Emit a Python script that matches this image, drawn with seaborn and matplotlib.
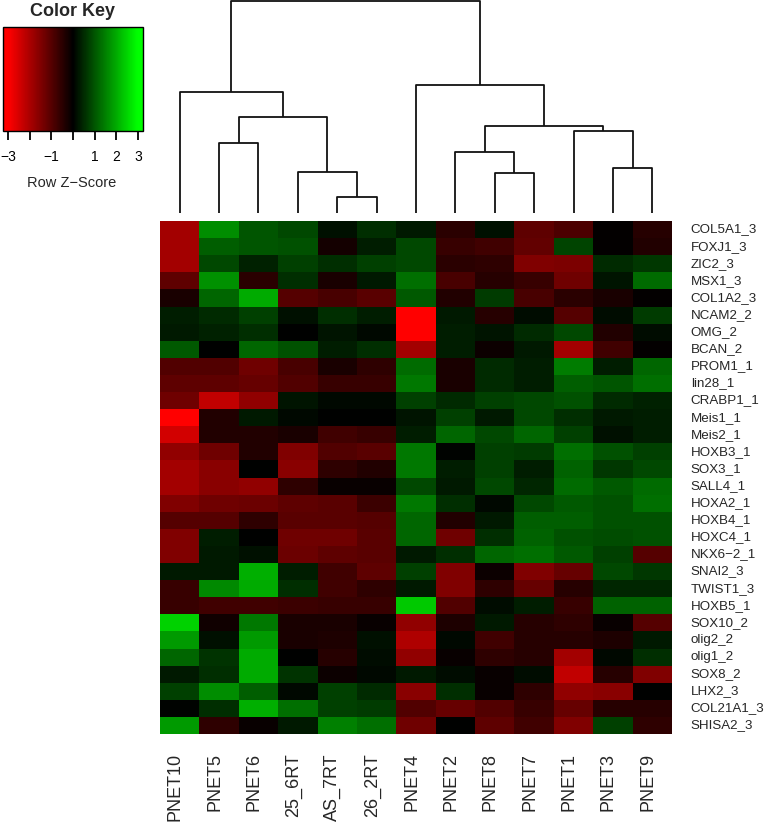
import numpy as np
import pandas as pd
import matplotlib
matplotlib.use("Agg")
import matplotlib.pyplot as plt
from matplotlib.colors import LinearSegmentedColormap
from matplotlib.transforms import ScaledTranslation
import seaborn as sns

# ---------------- data ----------------
genes = ["COL5A1_3", "FOXJ1_3", "ZIC2_3", "MSX1_3", "COL1A2_3", "NCAM2_2", "OMG_2",
         "BCAN_2", "PROM1_1", "lin28_1", "CRABP1_1", "Meis1_1", "Meis2_1", "HOXB3_1",
         "SOX3_1", "SALL4_1", "HOXA2_1", "HOXB4_1", "HOXC4_1", "NKX6\u22122_1", "SNAI2_3",
         "TWIST1_3", "HOXB5_1", "SOX10_2", "olig2_2", "olig1_2", "SOX8_2", "LHX2_3",
         "COL21A1_3", "SHISA2_3"]

samples = ["PNET10", "PNET5", "PNET6", "25_6RT", "AS_7RT", "26_2RT", "PNET4",
           "PNET2", "PNET8", "PNET7", "PNET1", "PNET3", "PNET9"]

PNET10 = [-1.9, -1.9, -1.9, -1.1, -0.3, 0.35, 0.3, 1.05, -0.95, -1.1, -1.3, -3.2, -2.45, -1.7, -1.9,
          -1.9, -1.5, -1.0, -1.5, -1.5, 0.3, -0.65, -0.65, 2.45, 1.8, 1.2, 0.3, 0.75, 0.05, 1.8]
PNET5 = [1.65, 1.1, 0.85, 1.7, 1.2, 0.5, 0.4, 0.0, -0.95, -1.1, -2.25, -0.4, -0.4, -1.3, -1.6,
         -1.6, -1.3, -1.0, 0.35, 0.3, 0.3, 1.6, -0.75, -0.2, 0.2, 0.6, 0.55, 1.65, 0.55, -0.55]
PNET6 = [1.0, 1.0, 0.4, -0.5, 2.0, 0.75, 0.55, 1.2, -1.3, -1.2, -1.7, 0.3, -0.4, -0.4, 0.0,
         -1.7, -1.25, -0.55, 0.0, 0.2, 2.05, 2.0, -0.75, 1.4, 1.8, 2.0, 2.0, 1.1, 2.05, -0.1]
RT25_6 = [0.85, 0.95, 0.75, 0.55, -1.0, 0.2, 0.0, 0.95, -0.85, -0.95, 0.25, 0.1, -0.3, -1.5, -1.6,
          -0.55, -1.1, -1.05, -1.3, -1.25, 0.35, 0.55, -0.7, -0.3, -0.3, 0.0, 0.6, 0.1, 1.3, 0.3]
AS_7RT = [0.2, -0.25, 0.55, -0.3, -0.85, 0.55, 0.25, 0.35, -0.3, -0.65, 0.1, 0.0, -0.75, -0.95, -0.55,
          -0.1, -1.05, -1.05, -1.3, -1.1, -0.75, -0.75, -0.65, -0.3, -0.35, -0.45, -0.15, 0.75, 0.75, 1.5]
RT26_2 = [0.55, 0.35, 0.75, 0.3, -1.05, 0.35, 0.1, 0.55, -0.55, -0.65, 0.1, 0.0, -0.65, -1.05, -0.4,
          -0.1, -0.7, -1.0, -1.05, -1.05, -1.1, -0.55, -0.65, -0.1, 0.2, 0.15, 0.1, 0.5, 0.7, 1.3]
PNET4 = [0.3, 0.85, 0.85, 1.3, 1.05, -3.2, -3.2, -1.9, 1.25, 1.4, 0.75, 0.25, 0.35, 1.4, 1.4,
         0.85, 1.4, 1.2, 1.2, 0.3, 0.75, 0.3, 2.35, -1.7, -2.05, -1.7, 0.3, -1.6, -0.95, -1.3]
PNET2 = [-0.5, -0.65, -0.5, -0.85, -0.4, 0.3, 0.35, 0.35, -0.3, -0.3, 0.5, 0.75, 1.2, 0.05, 0.35,
         0.3, 0.55, -0.4, -1.3, 0.55, -1.5, -1.5, -0.95, -0.35, 0.1, -0.1, 0.15, 0.55, -1.2, 0.0]
PNET8 = [0.2, -0.75, -0.55, -0.45, 0.7, -0.45, 0.25, -0.15, 0.5, 0.5, 0.75, 0.3, 0.85, 0.75, 0.75,
         0.85, 0.1, 0.3, 0.55, 1.2, -0.15, -0.55, 0.15, 0.3, -0.75, -0.55, -0.1, -0.1, -0.95, -1.1]
PNET7 = [-1.1, -1.15, -1.5, -0.65, -0.85, 0.15, 0.5, 0.3, 0.35, 0.35, 0.85, 0.85, 1.2, 0.7, 0.35,
         0.45, 0.85, 1.1, 1.15, 1.3, -1.5, -1.2, 0.35, -0.45, -0.45, -0.45, 0.15, -0.55, -0.65, -0.75]
PNET1 = [-0.9, 0.8, -1.45, -1.3, -0.5, -1.0, 0.85, -1.9, 1.45, 1.1, 0.95, 0.55, 0.75, 1.3, 1.15,
         1.25, 1.05, 1.1, 0.95, 1.05, -1.2, -0.45, -0.65, -0.55, -0.45, -1.9, -2.25, -1.7, -1.2, -1.5]
PNET3 = [-0.05, -0.05, 0.5, 0.25, -0.3, 0.15, -0.4, -0.75, 0.35, 1.0, 0.5, 0.3, 0.2, 0.95, 0.65,
         1.05, 0.95, 0.95, 0.9, 0.75, 0.85, 0.45, 1.15, -0.1, -0.35, 0.1, -0.45, -1.6, -0.45, 0.75]
PNET9 = [-0.45, -0.4, 0.65, 1.25, -0.05, 0.7, 0.15, -0.05, 1.2, 1.3, 0.4, 0.35, 0.35, 0.75, 0.85,
         1.25, 1.3, 0.95, 0.95, -1.0, 0.65, 0.45, 1.15, -1.0, 0.3, 0.55, -1.5, 0.0, -0.45, -0.55]

columns = [PNET10, PNET5, PNET6, RT25_6, AS_7RT, RT26_2, PNET4, PNET2, PNET8, PNET7, PNET1, PNET3, PNET9]

# column dendrogram: (left node, right node, merge height); leaves are 0..12, new nodes 13..
col_merges = [(4, 5, 48), (3, 13, 125), (1, 2, 212), (15, 14, 290), (0, 16, 365),
              (8, 9, 120), (7, 18, 183), (11, 12, 135), (10, 20, 247), (19, 21, 263),
              (6, 22, 385), (17, 23, 638)]

key_ticks = [-3, -2, -1, 0, 1, 2, 3]
key_labels = ["\u22123", "", "\u22121", "", "1", "2", "3"]

# ---------------- styling ----------------
sns.set_style("white")
plt.rcParams["font.family"] = ["Liberation Sans", "DejaVu Sans"]

W, H = 764, 822
fig = plt.figure(figsize=(W / 100, H / 100), dpi=100)

def box(x0, y0, x1, y1):
    return [x0 / W, 1 - y1 / H, (x1 - x0) / W, (y1 - y0) / H]

ax = fig.add_axes(box(160, 221, 672, 734))
ax_d = fig.add_axes(box(160, 0, 672, 221))
ax_k = fig.add_axes(box(3, 27, 143, 131))

for c in columns:
    assert len(c) == len(genes)
df = pd.DataFrame(np.array(columns).T, index=genes, columns=samples)

lim = 3.23
sat = 3.0
e = (lim - sat) / (2 * lim)
cmap = LinearSegmentedColormap.from_list(
    "redgreen", [(0, "#ff0000"), (e, "#ff0000"), (0.5, "#000000"), (1 - e, "#00ff00"), (1, "#00ff00")])

sns.heatmap(df, ax=ax, cmap=cmap, vmin=-lim, vmax=lim, cbar_ax=ax_k,
            cbar_kws={"orientation": "horizontal"}, xticklabels=True, yticklabels=True,
            linewidths=0)
ax.set_xlabel("")
ax.set_ylabel("")
ax.yaxis.tick_right()
ax.tick_params(axis="y", length=0, pad=13.5, labelsize=9.6, labelrotation=0)
ax.tick_params(axis="x", length=0, pad=13.7, labelsize=13)
for lab in ax.get_yticklabels():
    lab.set_ha("left")
    lab.set_va("center")
for lab in ax.get_xticklabels():
    lab.set_rotation(90)
    lab.set_rotation_mode("anchor")
    lab.set_ha("right")
    lab.set_va("center")
    lab.set_transform(lab.get_transform() + ScaledTranslation(-0.045, 0, fig.dpi_scale_trans))

# colour key
cbar = ax.collections[0].colorbar
cbar.set_ticks(key_ticks)
cbar.set_ticklabels(key_labels)
cbar.ax.tick_params(axis="x", length=6.5, width=1.3, pad=7, labelsize=10, colors="black")
cbar.outline.set_edgecolor("black")
cbar.outline.set_linewidth(1.0)
fig.text(72 / W, 1 - 11 / H, "Color Key", ha="center", va="center", fontsize=13, fontweight="bold")
fig.text(72 / W, 1 - 183 / H, "Row Z\u2212Score", ha="center", va="center", fontsize=10.5)

# column dendrogram
n = len(samples)
pos = {i: i + 0.5 for i in range(n)}
hgt = {i: 0.0 for i in range(n)}
for k, (a, b, h) in enumerate(col_merges):
    node = n + k
    xa, xb = pos[a], pos[b]
    ax_d.plot([xa, xa, xb, xb], [hgt[a], h, h, hgt[b]], color="#111111", lw=1.3,
              solid_capstyle="butt", clip_on=False)
    pos[node] = (xa + xb) / 2
    hgt[node] = h
top = max(m[2] for m in col_merges)
ax_d.set_xlim(0, n)
ax_d.set_ylim(-0.0362 * top, 1.0033 * top)
ax_d.axis("off")

fig.savefig("out.png", dpi=100)
